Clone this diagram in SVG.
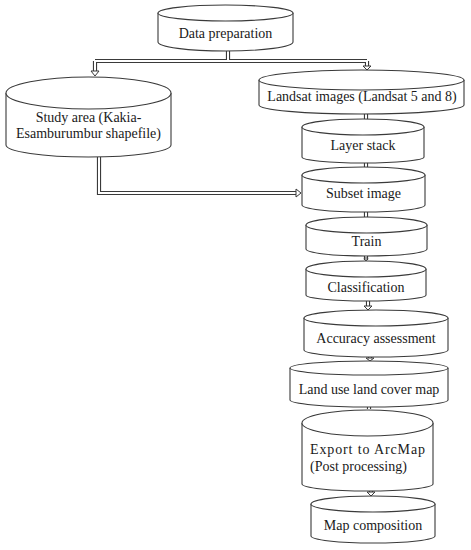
<svg xmlns="http://www.w3.org/2000/svg" width="471" height="550" viewBox="0 0 471 550">
<defs>
<style>
.cyl{fill:#fff;stroke:#3a3a3a;stroke-width:1.1}
.t{font-family:"Liberation Serif","Times New Roman",serif;font-size:14px;fill:#1a1a1a;text-anchor:middle;dominant-baseline:central}
.so{fill:none;stroke:#3a3a3a;stroke-width:4.2}
.si{fill:none;stroke:#fff;stroke-width:2}
.ah{fill:#fff;stroke:#3a3a3a;stroke-width:1}
</style>
</defs>
<rect width="471" height="550" fill="#fff"/>
<g id="connectors">
<path class="so" d="M228,51 V61 M95,61 H367 M95,61 V71 M367,61 V66 M99,157 V193 H296"/>
<path class="si" d="M228,51 V61 M95,61 H367 M95,61 V71 M367,61 V66 M99,157 V193 H296"/>
<polygon class="ah" points="91,71 99,71 95,76"/>
<polygon class="ah" points="363,66 371,66 367,70"/>
<polygon class="ah" points="296,189 296,197 301,193"/>
<path class="so" d="M366,114 V119 M366,162 V167 M366,212 V217 M366,256 V260 M368,301 V306 M370,357 V360 M369,407 V409 M371,490 V492"/>
<path class="si" d="M366,114 V119 M366,162 V167 M366,212 V217 M366,256 V260 M368,301 V306 M370,357 V360 M369,407 V409 M371,490 V492"/>
<polygon class="ah" points="364,258 368,258 366,261"/>
<polygon class="ah" points="364,306 372,306 368,310"/>
<polygon class="ah" points="366,358 374,358 370,361"/>
<polygon class="ah" points="367,492 375,492 371,496"/>
</g>
<g id="data-preparation">
<path class="cyl" d="M158,13 V42 A67.5,9 0 0 0 293,42 V13"/>
<ellipse class="cyl" cx="225.5" cy="13" rx="67.5" ry="8"/>
<text class="t" x="225.5" y="33">Data preparation</text>
</g>
<g id="study-area">
<path class="cyl" d="M6,93 V145 A82.5,12 0 0 0 171,145 V93"/>
<ellipse class="cyl" cx="88.5" cy="93" rx="82.5" ry="16"/>
<text class="t" x="88.5" y="117">Study area (Kakia-</text>
<text class="t" x="88.5" y="133">Esamburumbur shapefile)</text>
</g>
<g id="landsat-images">
<path class="cyl" d="M259,80 V105 A102.5,9 0 0 0 464,105 V80"/>
<ellipse class="cyl" cx="361.5" cy="80" rx="102.5" ry="10"/>
<text class="t" x="362" y="96">Landsat images (Landsat 5 and 8)</text>
</g>
<g id="layer-stack">
<path class="cyl" d="M302,127 V157 A61,6 0 0 0 424,157 V127"/>
<ellipse class="cyl" cx="363" cy="127" rx="61" ry="8"/>
<text class="t" x="363" y="145">Layer stack</text>
</g>
<g id="subset-image">
<path class="cyl" d="M302,175 V205 A61.5,7 0 0 0 425,205 V175"/>
<ellipse class="cyl" cx="363.5" cy="175" rx="61.5" ry="8"/>
<text class="t" x="363.5" y="193">Subset image</text>
</g>
<g id="train">
<path class="cyl" d="M306,225 V249 A60.5,7 0 0 0 427,249 V225"/>
<ellipse class="cyl" cx="366.5" cy="225" rx="60.5" ry="8"/>
<text class="t" x="366.5" y="241">Train</text>
</g>
<g id="classification">
<path class="cyl" d="M306,269 V295 A60,6 0 0 0 426,295 V269"/>
<ellipse class="cyl" cx="366" cy="269" rx="60" ry="8"/>
<text class="t" x="366" y="287">Classification</text>
</g>
<g id="accuracy-assessment">
<path class="cyl" d="M304,318 V350 A72,7 0 0 0 448,350 V318"/>
<ellipse class="cyl" cx="376" cy="318" rx="72" ry="8"/>
<text class="t" x="376" y="338">Accuracy assessment</text>
</g>
<g id="land-use-land-cover-map">
<path class="cyl" d="M290,368 V400 A79,7 0 0 0 448,400 V368"/>
<ellipse class="cyl" cx="369" cy="368" rx="79" ry="7"/>
<text class="t" x="369" y="389">Land use land cover map</text>
</g>
<g id="export-to-arcmap">
<path class="cyl" d="M302,423 V484 A65.5,7 0 0 0 433,484 V423"/>
<ellipse class="cyl" cx="367.5" cy="423" rx="65.5" ry="13"/>
<text class="t" x="367.5" y="449" textLength="115" lengthAdjust="spacing">Export to ArcMap</text>
<text class="t" x="310" y="466" style="text-anchor:start">(Post processing)</text>
</g>
<g id="map-composition">
<path class="cyl" d="M311,504 V536 A62,7 0 0 0 435,536 V504"/>
<ellipse class="cyl" cx="373" cy="504" rx="62" ry="8"/>
<text class="t" x="373" y="525">Map composition</text>
</g>
</svg>
